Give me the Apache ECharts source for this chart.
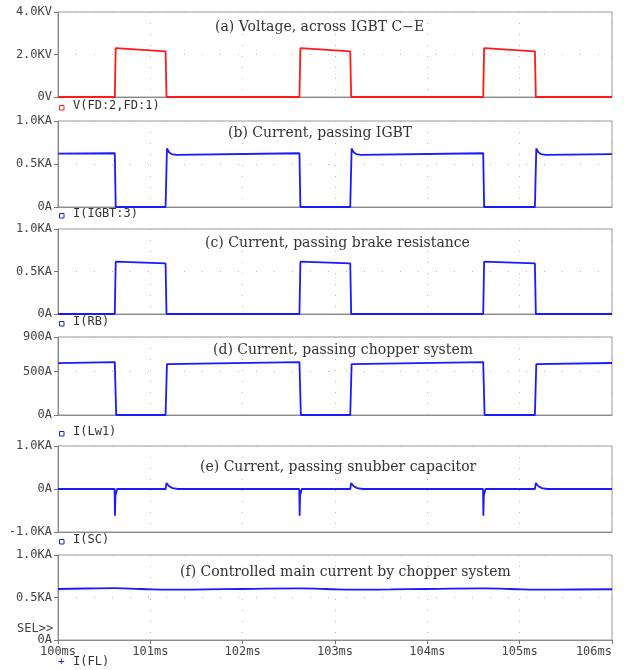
<!DOCTYPE html>
<html>
<head>
<meta charset="utf-8">
<script src="https://cdn.jsdelivr.net/npm/echarts@6/dist/echarts.min.js"></script>
<style>
html,body{margin:0;padding:0;background:#fff;}
#chart{width:624px;height:670px;}
</style>
</head>
<body>
<div id="chart"></div>
<script>
// ---- Data (time in ms) ----
var panelTitles = [
  '(a) Voltage, across IGBT C\u2212E',
  '(b) Current, passing IGBT',
  '(c) Current, passing brake resistance',
  '(d) Current, passing chopper system',
  '(e) Current, passing snubber capacitor',
  '(f) Controlled main current by chopper system'
];
var traceNames = ['V(FD:2,FD:1)', 'I(IGBT:3)', 'I(RB)', 'I(Lw1)', 'I(SC)', 'I(FL)'];
var xTicks = [100, 101, 102, 103, 104, 105, 106];

// (a) voltage, KV
var tVolt = [100, 100.615, 100.625, 100.635, 101.165, 101.175, 102.615, 102.625, 102.635, 103.165, 103.175, 104.605, 104.615, 104.625, 105.165, 105.175, 106];
var vVolt = [0, 0, 2.30, 2.22, 2.15, 0, 0, 2.30, 2.22, 2.15, 0, 0, 2.30, 2.22, 2.15, 0, 0];

// (b) IGBT current, KA
var tIgbt = [100, 100.615, 100.625, 101.165, 101.18, 101.2, 101.23, 101.28, 102.615, 102.625, 103.165, 103.18, 103.2, 103.23, 103.28, 104.605, 104.615, 105.165, 105.18, 105.2, 105.23, 105.28, 106];
var vIgbt = [0.620, 0.625, 0, 0, 0.68, 0.64, 0.615, 0.605, 0.625, 0, 0, 0.68, 0.64, 0.615, 0.605, 0.625, 0, 0, 0.68, 0.64, 0.615, 0.605, 0.615];

// (c) brake resistance current, KA
var tBrake = [100, 100.615, 100.625, 101.165, 101.175, 102.615, 102.625, 103.165, 103.175, 104.605, 104.615, 105.165, 105.175, 106];
var vBrake = [0, 0, 0.615, 0.595, 0, 0, 0.615, 0.595, 0, 0, 0.615, 0.595, 0, 0];

// (d) chopper system current, A
var tChop = [100, 100.615, 100.63, 101.165, 101.18, 102.615, 102.63, 103.165, 103.18, 104.605, 104.62, 105.165, 105.18, 106];
var vChop = [598, 610, 0, 0, 588, 610, 0, 0, 588, 610, 0, 0, 588, 600];

// (e) snubber capacitor current, KA
var tSnub = [100, 100.613, 100.617, 100.622, 100.64, 101.165, 101.175, 101.2, 101.24, 101.3, 102.613, 102.617, 102.622, 102.64, 103.165, 103.175, 103.2, 103.24, 103.3, 104.603, 104.607, 104.612, 104.63, 105.165, 105.175, 105.2, 105.24, 105.3, 106];
var vSnub = [0, 0, -0.62, -0.15, 0, 0, 0.14, 0.07, 0.02, 0, 0, -0.62, -0.15, 0, 0, 0.14, 0.07, 0.02, 0, 0, -0.62, -0.15, 0, 0, 0.14, 0.07, 0.02, 0, 0];

// (f) main current, KA
var tMain = [100, 100.3, 100.62, 100.9, 101.2, 101.6, 102.0, 102.62, 102.9, 103.2, 103.6, 104.0, 104.62, 104.9, 105.2, 105.6, 106];
var vMain = [0.600, 0.606, 0.610, 0.600, 0.592, 0.595, 0.600, 0.607, 0.600, 0.592, 0.595, 0.600, 0.607, 0.600, 0.592, 0.594, 0.597];

// y axis ranges
var yMin = [0, 0, 0, 0, -1, 0];
var yMax = [4, 1, 1, 900, 1, 1];
var yStep = [2, 0.5, 0.5, 500, 1, 0.5];

// ---- Layout / style ----
function zip(t, v) { return t.map(function (x, i) { return [x, v[i]]; }); }
var seriesData = [zip(tVolt, vVolt), zip(tIgbt, vIgbt), zip(tBrake, vBrake), zip(tChop, vChop), zip(tSnub, vSnub), zip(tMain, vMain)];
var tops = [12, 121, 229, 337, 446, 555];
var heights = [85, 86, 85, 78, 86, 85];
var colors = ['#ff1a1a', '#1a1aff', '#1a1aff', '#1a1aff', '#1a1aff', '#1a1aff'];
var titleX = [215, 228, 205, 213, 200, 180];
var titleY = [29, 135, 245, 352, 469, 574];
var legendY = [108, 216, 324, 434, 542, 664];
var mono = '"DejaVu Sans Mono", monospace';
var serif = '"DejaVu Serif", serif';

function yFmt(i) {
  return function (v) {
    if (i === 0) return v === 0 ? '0V' : v.toFixed(1) + 'KV';
    if (i === 3) return v + 'A';
    if (v === 0) return '0A';
    return v.toFixed(1) + 'KA';
  };
}

var grids = [], xAxes = [], yAxes = [], series = [], graphics = [];
for (var i = 0; i < 6; i++) {
  grids.push({ left: 58, right: 12, top: tops[i], height: heights[i], show: true, borderColor: '#9a9a9a', borderWidth: 1, backgroundColor: '#fff', containLabel: false, outerBoundsMode: 'none' });
  var last = (i === 5);
  xAxes.push({
    type: 'value', gridIndex: i, min: 100, max: 106, interval: 1,
    axisLine: { show: true, onZero: false, lineStyle: { color: '#8a8a8a', width: 1 } },
    axisTick: { show: last, length: 4, lineStyle: { color: '#777' } },
    axisLabel: { show: last, margin: 6, color: '#444', fontFamily: mono, fontSize: 12, alignMaxLabel: 'right', formatter: function (v) { return v + 'ms'; } },
    splitLine: { show: true, lineStyle: { color: '#b8b8b8', type: [1, 10], width: 1 } }
  });
  yAxes.push({
    type: 'value', gridIndex: i, min: yMin[i], max: yMax[i], interval: yStep[i],
    axisLine: { show: true, lineStyle: { color: '#8a8a8a', width: 1 } },
    axisTick: { show: true, length: 4, lineStyle: { color: '#777' } },
    axisLabel: { margin: 6, color: '#444', fontFamily: mono, fontSize: 12, formatter: yFmt(i) },
    splitLine: { show: true, lineStyle: { color: '#b8b8b8', type: [1, 17], width: 1 } }
  });
  series.push({
    type: 'line', xAxisIndex: i, yAxisIndex: i, data: seriesData[i], showSymbol: false,
    smooth: i === 5 ? 0.5 : false, animation: false,
    lineStyle: { color: colors[i], width: 1.8 }
  });
  graphics.push({
    type: 'text', left: titleX[i], top: titleY[i] - 9,
    style: { text: panelTitles[i], fill: '#333', font: '14px ' + serif }
  });
  if (i < 5) {
    graphics.push({ type: 'rect', shape: { x: 59.5, y: legendY[i] - 2.5, width: 4.5, height: 4.5 }, style: { fill: 'none', stroke: colors[i], lineWidth: 1 } });
  } else {
    graphics.push({ type: 'text', left: 58, top: legendY[i] - 7, style: { text: '+', fill: colors[i], font: '11px ' + mono } });
  }
  graphics.push({
    type: 'text', left: 73, top: legendY[i] - 8,
    style: { text: traceNames[i], fill: '#333', font: '12px ' + mono }
  });
}
graphics.push({ type: 'text', left: 17, top: 623, style: { text: 'SEL>>', fill: '#444', font: '12px ' + mono } });

var chart = echarts.init(document.getElementById('chart'), null, { renderer: 'canvas' });
chart.setOption({
  animation: false,
  backgroundColor: '#fff',
  grid: grids,
  xAxis: xAxes,
  yAxis: yAxes,
  series: series,
  graphic: graphics
});
</script>
</body>
</html>
